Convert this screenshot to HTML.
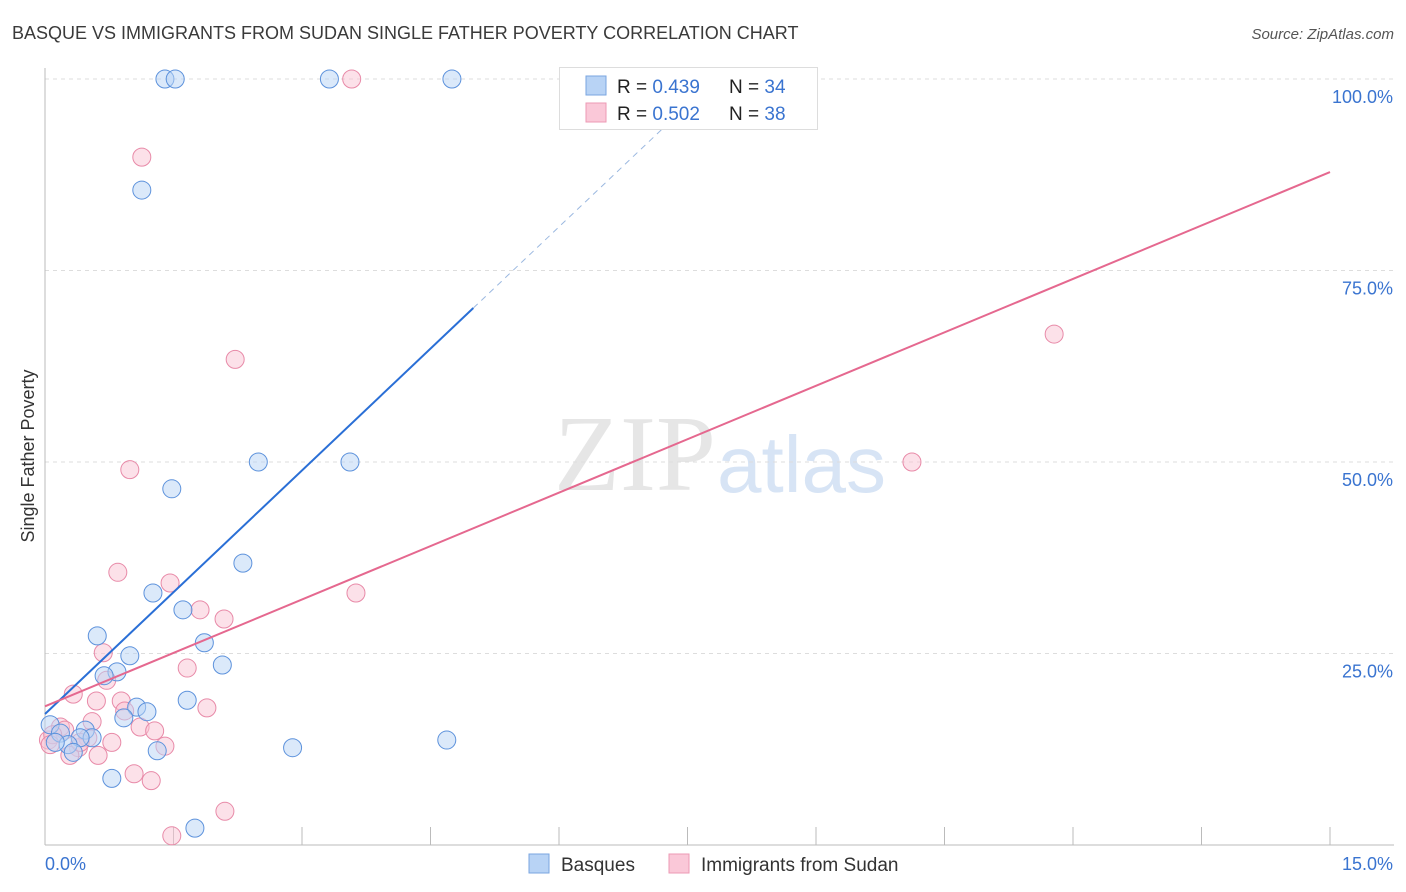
<!DOCTYPE html>
<html><head><meta charset="utf-8"><style>
body{margin:0;background:#fff;font-family:"Liberation Sans",sans-serif;}
svg{display:block}
</style></head><body>
<svg id="chart" width="1406" height="892">
<text x="12" y="39" font-size="18" fill="#3a3a3a">BASQUE VS IMMIGRANTS FROM SUDAN SINGLE FATHER POVERTY CORRELATION CHART</text>
<text x="1394" y="39" font-size="15" fill="#555" font-style="italic" text-anchor="end">Source: ZipAtlas.com</text>
<text x="716" y="490" font-size="108" font-family="Liberation Serif,serif" fill="#e6e6e6" text-anchor="end">ZIP</text>
<text x="717" y="492" font-size="80" fill="#d7e4f5">atlas</text>
<g id="grid"></g>
<g id="marks"></g>
<g id="trend"></g>
<text transform="translate(34,456) rotate(-90)" font-size="18" fill="#333" text-anchor="middle">Single Father Poverty</text>
<g>
<rect x="559.5" y="67.5" width="258" height="62" fill="#fff" stroke="#ddd"/>
<rect x="586" y="76" width="20" height="19" fill="#b8d3f5" stroke="#7aa6e0"/>
<rect x="586" y="103" width="20" height="19" fill="#fac8d8" stroke="#ec9ab4"/>
<text x="617" y="93" font-size="19" fill="#222">R = <tspan fill="#3a74d0">0.439</tspan></text>
<text x="729" y="93" font-size="19" fill="#222">N = <tspan fill="#3a74d0">34</tspan></text>
<text x="617" y="120" font-size="19" fill="#222">R = <tspan fill="#3a74d0">0.502</tspan></text>
<text x="729" y="120" font-size="19" fill="#222">N = <tspan fill="#3a74d0">38</tspan></text>
</g>
<g>
<rect x="529" y="854" width="20" height="19" fill="#b8d3f5" stroke="#7aa6e0"/>
<text x="561" y="871" font-size="19" fill="#333">Basques</text>
<rect x="669" y="854" width="20" height="19" fill="#fac8d8" stroke="#ec9ab4"/>
<text x="701" y="871" font-size="19" fill="#333">Immigrants from Sudan</text>
</g>
</svg>
<script>
const blueX=[1.40,1.52,3.32,4.75,1.13,2.49,3.56,1.48,2.31,1.26,1.61,0.61,1.86,0.99,2.07,0.84,0.69,1.66,1.07,1.19,0.92,0.06,0.47,0.18,0.55,0.41,0.27,0.33,1.31,2.89,4.69,0.78,1.75,0.12];
const blueY=[100,100,100,100,85.5,50.0,50.0,46.5,36.8,32.9,30.7,27.3,26.4,24.7,23.5,22.6,22.1,18.9,18.0,17.4,16.6,15.7,15.0,14.6,14.0,14.0,13.1,12.1,12.3,12.7,13.7,8.7,2.2,13.4];
const pinkX=[3.58,1.13,2.22,0.99,0.85,1.46,3.63,1.81,2.09,0.68,1.66,0.72,0.33,0.60,0.89,0.93,1.89,0.55,1.11,1.28,0.18,0.23,0.04,0.09,0.50,0.78,1.40,0.39,0.29,0.62,1.04,1.24,2.10,1.48,11.78,10.12,0.06,0.41];
const pinkY=[100,89.8,63.4,49.0,35.6,34.2,32.9,30.7,29.5,25.1,23.1,21.5,19.7,18.8,18.8,17.5,17.9,16.1,15.4,14.9,15.4,15.0,13.7,14.4,14.0,13.4,12.9,12.7,11.7,11.7,9.3,8.4,4.4,1.2,66.7,50.0,13.1,13.4];
const blueTrend=[17.1,10.6]; // intercept, slope
const pinkTrend=[18.1,4.65];
const xTicks=[0,1.5,3,4.5,6,7.5,9,10.5,12,13.5,15];
const yTicks=[25,50,75,100];
const yLabels=["25.0%","50.0%","75.0%","100.0%"];

const NS="http://www.w3.org/2000/svg";
const sx=v=>45+v/15*1285;
const sy=v=>845-v/100*766;
function mk(tag,attrs,parent){const e=document.createElementNS(NS,tag);for(const k in attrs)e.setAttribute(k,attrs[k]);parent.appendChild(e);return e;}
const grid=document.getElementById('grid'),marks=document.getElementById('marks'),trend=document.getElementById('trend');
yTicks.forEach((t,i)=>{
 const l=mk('line',{x1:45,x2:1394,y1:sy(t),y2:sy(t),stroke:'#ddd','stroke-dasharray':'4,4'},grid);
 
 
 const tx=mk('text',{x:1393,y:sy(t)+24,'font-size':18,fill:'#3a74d0','text-anchor':'end'},grid);
 tx.textContent=yLabels[i];
 
 
});
const ax=mk('line',{x1:45,x2:45,y1:68,y2:845,stroke:'#bbb'},grid);


const bx=mk('line',{x1:45,x2:1394,y1:845,y2:845,stroke:'#bbb'},grid);


xTicks.forEach(t=>{
 const l=mk('line',{x1:sx(t),x2:sx(t),y1:827,y2:845,stroke:'#bbb'},grid);
 
 
});
const xl0=mk('text',{x:45,y:870,'font-size':18,fill:'#3a74d0'},grid);xl0.textContent=xTicks[0].toFixed(1)+'%';


const xl1=mk('text',{x:1393,y:870,'font-size':18,fill:'#3a74d0','text-anchor':'end'},grid);xl1.textContent=xTicks[xTicks.length-1].toFixed(1)+'%';


function dots(X,Y,fill,stroke,name){X.forEach((x,i)=>{
 const c=mk('circle',{cx:sx(x),cy:sy(Y[i]),r:9,fill:fill,'fill-opacity':0.5,stroke:stroke,'stroke-width':1},marks);
 
 
});}
dots(pinkX,pinkY,'#f9c3d4','#e88aa8','point-sudan');
dots(blueX,blueY,'#b8d3f5','#5d92dc','point-basque');
const bEnd=5.0, bDash=7.2;
const b1=mk('line',{x1:sx(0),y1:sy(blueTrend[0]),x2:sx(bEnd),y2:sy(blueTrend[0]+blueTrend[1]*bEnd),stroke:'#2a6fd6','stroke-width':2},trend);


const b2=mk('line',{x1:sx(bEnd),y1:sy(blueTrend[0]+blueTrend[1]*bEnd),x2:sx(bDash),y2:sy(blueTrend[0]+blueTrend[1]*bDash),stroke:'#9bb8e0','stroke-width':1,'stroke-dasharray':'6,5'},trend);


const p1=mk('line',{x1:sx(0),y1:sy(pinkTrend[0]),x2:sx(15),y2:sy(pinkTrend[0]+pinkTrend[1]*15),stroke:'#e5688f','stroke-width':2},trend);


</script>
</body></html>
